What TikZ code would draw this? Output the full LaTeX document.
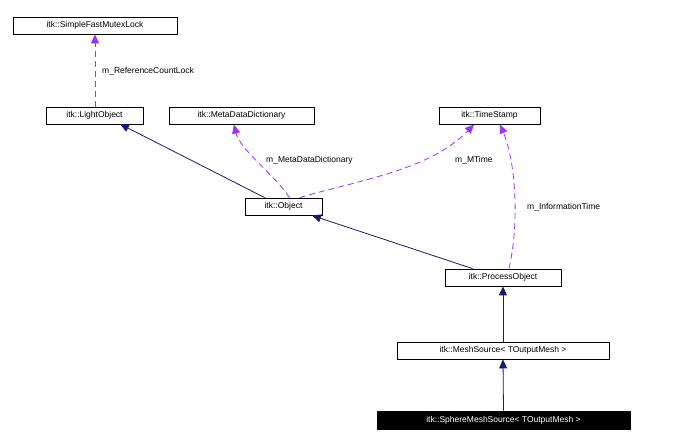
\documentclass[tikz,border=0pt]{standalone}
\usepackage{fontspec}
\setmainfont{Liberation Sans}
\usetikzlibrary{arrows.meta}
\begin{document}
\begin{tikzpicture}[x=1pt,y=-1pt,
  box/.style={draw,thick,inner sep=0pt,minimum height=17pt,font=\fontsize{8.5}{10}\selectfont,fill=white},
  inh/.style={draw={rgb,255:red,25;green,25;blue,112},thick,-{Triangle[length=9pt,width=8pt]}},
  use/.style={draw={rgb,255:red,155;green,48;blue,255},thick,dash pattern=on 6pt off 4pt,-{Triangle[length=9pt,width=8pt]}},
  lab/.style={font=\fontsize{8.5}{10}\selectfont,anchor=west,inner sep=1pt}]
\useasboundingbox (0,0) rectangle (680,446);
\node[box,minimum width=164pt] (lock) at (95,25.5) {itk::SimpleFastMutexLock};
\node[box,minimum width=97pt] (light) at (94.5,115.5) {itk::LightObject};
\node[box,minimum width=145pt] (meta) at (241.5,115.5) {itk::MetaDataDictionary};
\node[box,minimum width=101pt] (time) at (489.5,115.5) {itk::TimeStamp};
\node[box,minimum width=77pt] (obj) at (283.5,206.5) {itk::Object};
\node[box,minimum width=116pt] (proc) at (503,277.5) {itk::ProcessObject};
\node[box,minimum width=212pt] (mesh) at (503,350.5) {itk::MeshSource< TOutputMesh >};
\node[box,minimum width=253pt,fill=black,text=white,minimum height=18pt] (sphere) at (503.5,420) {itk::SphereMeshSource< TOutputMesh >};

\draw[use] (light.north -| lock) -- (lock.south);
\node[lab] (l1) at (101,71) {m\_ReferenceCountLock};
\draw[inh] (obj.north west) ++(20,0) coordinate (o1) -- (120,124) coordinate (li);
\draw[use] (obj.north) ++(6,0) coordinate (o2) .. controls (275,175) and (240,150) .. (234,124.5);
\node[lab] (l2) at (265,160) {m\_MetaDataDictionary};
\draw[use] (obj.north) ++(16,0) coordinate (o3) .. controls (360,180) and (430,170) .. (474,124.5);
\node[lab] (l3) at (454,160) {m\_MTime};
\draw[use] (proc.north) ++(6,0) coordinate (p1) .. controls (520,220) and (515,160) .. (500,124.5);
\node[lab] (l4) at (526,207) {m\_InformationTime};
\draw[inh] (proc.north west) ++(28,0) coordinate (p2) -- (312,215.5);
\draw[inh] (mesh.north) -- (proc.south);
\draw[inh] (sphere.north) -- (mesh.south);
\end{tikzpicture}
\end{document}
